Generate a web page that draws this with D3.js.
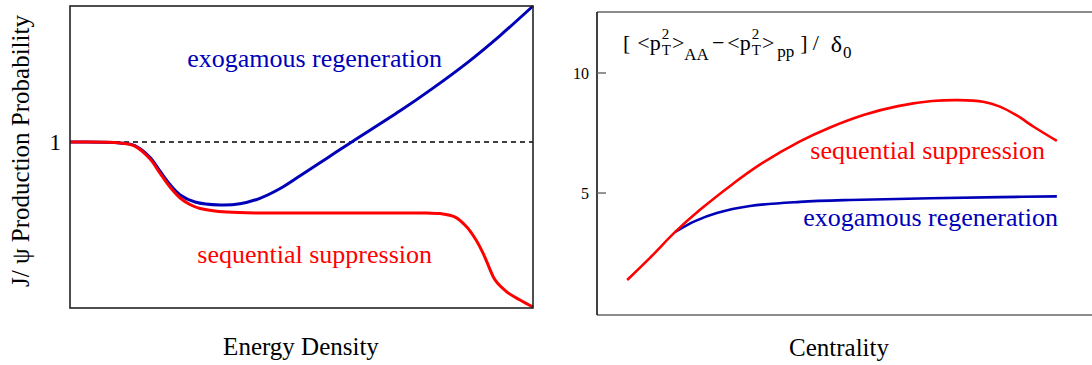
<!DOCTYPE html>
<html>
<head>
<meta charset="utf-8">
<script src="https://cdn.jsdelivr.net/npm/d3@7"></script>
<style>
  body { margin: 0; background: #fff; }
  text { font-family: "Liberation Serif", "DejaVu Serif", serif; }
</style>
</head>
<body>
<div id="chart"></div>
<script>
// left panel: J/psi production probability vs energy density
const energySupp = [0, 0.108, 0.140, 0.173, 0.194, 0.216, 0.238, 0.259, 0.281, 0.339, 0.518, 0.660, 0.770, 0.799, 0.832, 0.857, 0.877, 0.892, 0.905, 0.918, 0.944, 0.972, 1.0];
const probSupp   = [1.0, 0.995, 0.976, 0.898, 0.814, 0.729, 0.663, 0.624, 0.600, 0.578, 0.572, 0.572, 0.572, 0.569, 0.548, 0.488, 0.410, 0.331, 0.247, 0.169, 0.096, 0.048, 0.006];
const energyRegen = [0, 0.108, 0.140, 0.173, 0.194, 0.216, 0.238, 0.270, 0.324, 0.367, 0.410, 0.454, 0.497, 0.555, 0.611, 0.713, 0.784, 0.857, 0.929, 1.0];
const probRegen   = [1.0, 0.995, 0.979, 0.907, 0.826, 0.744, 0.681, 0.639, 0.621, 0.628, 0.661, 0.720, 0.797, 0.903, 1.005, 1.188, 1.325, 1.476, 1.642, 1.820];
const leftTicks = [1];

// right panel: <pT^2> difference vs centrality
const centSupp = [0.061, 0.107, 0.158, 0.208, 0.275, 0.329, 0.410, 0.472, 0.540, 0.608, 0.677, 0.731, 0.780, 0.814, 0.848, 0.883, 0.929];
const ptSupp   = [1.38, 2.30, 3.38, 4.30, 5.39, 6.18, 7.15, 7.74, 8.26, 8.62, 8.83, 8.87, 8.80, 8.60, 8.23, 7.75, 7.17];
const centRegen = [0.158, 0.198, 0.242, 0.309, 0.410, 0.511, 0.673, 0.814, 0.929];
const ptRegen   = [3.38, 3.83, 4.17, 4.46, 4.63, 4.71, 4.78, 4.83, 4.86];
const rightTicks = [5, 10];

const RED = "#ff0000";
const BLUE = "#0000b8";

const width = 1092, height = 365;

const svg = d3.select("#chart")
    .append("svg")
        .attr("width", width)
        .attr("height", height);

const zip = (xs, ys) => xs.map((x, i) => ({ x: x, y: ys[i] }));

// ---------- left panel ----------
const xL = d3.scaleLinear().domain([0, 1]).range([70, 533]);
const yL = d3.scaleLinear().domain([0, 1.82]).range([308, 6]);

const lineL = d3.line()
    .x(d => xL(d.x))
    .y(d => yL(d.y))
    .curve(d3.curveCatmullRom.alpha(0.5));

const left = svg.append("g");

left.append("line")
    .attr("x1", xL(0)).attr("x2", xL(1))
    .attr("y1", yL(1)).attr("y2", yL(1))
    .attr("stroke", "#000")
    .attr("stroke-width", 1.5)
    .attr("stroke-dasharray", "5,4");

left.append("path")
    .datum(zip(energyRegen, probRegen))
    .attr("d", lineL)
    .attr("fill", "none")
    .attr("stroke", BLUE)
    .attr("stroke-width", 3);

left.append("path")
    .datum(zip(energySupp, probSupp))
    .attr("d", lineL)
    .attr("fill", "none")
    .attr("stroke", RED)
    .attr("stroke-width", 3);

left.append("rect")
    .attr("x", xL(0)).attr("y", yL(1.82))
    .attr("width", xL(1) - xL(0))
    .attr("height", yL(0) - yL(1.82))
    .attr("fill", "none")
    .attr("stroke", "#222")
    .attr("stroke-width", 1.6);

left.selectAll(".ytick")
    .data(leftTicks)
    .join("text")
        .attr("class", "ytick")
        .attr("x", xL(0) - 9)
        .attr("y", d => yL(d))
        .attr("dy", "0.35em")
        .attr("text-anchor", "end")
        .style("font-size", "23px")
        .text(d => d);

left.append("text")
    .attr("transform", "translate(29, 151) rotate(-90)")
    .attr("text-anchor", "middle")
    .style("font-size", "25px")
    .text("J/ ψ Production Probability");

left.append("text")
    .attr("x", 301).attr("y", 355)
    .attr("text-anchor", "middle")
    .style("font-size", "25px")
    .text("Energy Density");

left.append("text")
    .attr("x", 442).attr("y", 67)
    .attr("text-anchor", "end")
    .attr("fill", BLUE)
    .style("font-size", "26px")
    .text("exogamous regeneration");

left.append("text")
    .attr("x", 432).attr("y", 263)
    .attr("text-anchor", "end")
    .attr("fill", RED)
    .style("font-size", "26px")
    .text("sequential suppression");

// ---------- right panel ----------
const xR = d3.scaleLinear().domain([0, 1]).range([597, 1092]);
const yR = d3.scaleLinear().domain([-0.08, 12.54]).range([315, 12]);

const lineR = d3.line()
    .x(d => xR(d.x))
    .y(d => yR(d.y))
    .curve(d3.curveCatmullRom.alpha(0.5));

const right = svg.append("g");

right.append("line")
    .attr("x1", xR(0)).attr("x2", xR(1) + 2)
    .attr("y1", yR(12.54)).attr("y2", yR(12.54))
    .attr("stroke", "#666").attr("stroke-width", 1.6);
right.append("line")
    .attr("x1", xR(0)).attr("x2", xR(1) + 2)
    .attr("y1", yR(-0.08)).attr("y2", yR(-0.08))
    .attr("stroke", "#666").attr("stroke-width", 1.6);
right.append("line")
    .attr("x1", xR(0)).attr("x2", xR(0))
    .attr("y1", yR(12.54)).attr("y2", yR(-0.08))
    .attr("stroke", "#111").attr("stroke-width", 1.6);

right.selectAll(".rtick")
    .data(rightTicks)
    .join("line")
        .attr("class", "rtick")
        .attr("x1", xR(0)).attr("x2", xR(0) + 9)
        .attr("y1", d => yR(d)).attr("y2", d => yR(d))
        .attr("stroke", "#666")
        .attr("stroke-width", 1.4);

right.selectAll(".rlabel")
    .data(rightTicks)
    .join("text")
        .attr("class", "rlabel")
        .attr("x", xR(0) - 8)
        .attr("y", d => yR(d))
        .attr("dy", "0.35em")
        .attr("text-anchor", "end")
        .style("font-size", "16px")
        .text(d => d);

right.append("path")
    .datum(zip(centRegen, ptRegen))
    .attr("d", lineR)
    .attr("fill", "none")
    .attr("stroke", BLUE)
    .attr("stroke-width", 2.6);

right.append("path")
    .datum(zip(centSupp, ptSupp))
    .attr("d", lineR)
    .attr("fill", "none")
    .attr("stroke", RED)
    .attr("stroke-width", 2.6);

right.append("text")
    .attr("x", 1045).attr("y", 159)
    .attr("text-anchor", "end")
    .attr("fill", RED)
    .style("font-size", "26px")
    .text("sequential suppression");

right.append("text")
    .attr("x", 1058).attr("y", 226)
    .attr("text-anchor", "end")
    .attr("fill", BLUE)
    .style("font-size", "26px")
    .text("exogamous regeneration");

right.append("text")
    .attr("x", 839).attr("y", 356)
    .attr("text-anchor", "middle")
    .style("font-size", "25px")
    .text("Centrality");

// formula label: [ <p_T^2>_AA - <p_T^2>_pp ] / delta_0
const formula = right.append("g");
let cursor = 623;
const put = (str, size, y, gap) => {
    const t = formula.append("text")
        .attr("x", cursor).attr("y", y)
        .style("font-size", size + "px")
        .text(str);
    cursor += t.node().getComputedTextLength() + (gap || 0);
};
const stack = (top, bottom, size) => {
    const a = formula.append("text").attr("x", cursor).attr("y", 39)
        .style("font-size", size + "px").text(top);
    const b = formula.append("text").attr("x", cursor).attr("y", 55)
        .style("font-size", size + "px").text(bottom);
    cursor += Math.max(a.node().getComputedTextLength(), b.node().getComputedTextLength()) + 1;
};
put("[", 22, 50, 7);
put("<p", 22, 50, 1);
stack("2", "T", 15);
put(">", 22, 50, 0);
put("AA", 17, 60, 3);
put("−", 22, 50, 3);
put("<p", 22, 50, 1);
stack("2", "T", 15);
put(">", 22, 50, 3);
put("pp", 17, 57, 6);
put("]", 22, 50, 5);
put("/", 22, 50, 12);
put("δ", 24, 52, 1);
put("0", 17, 58, 0);
</script>
</body>
</html>
